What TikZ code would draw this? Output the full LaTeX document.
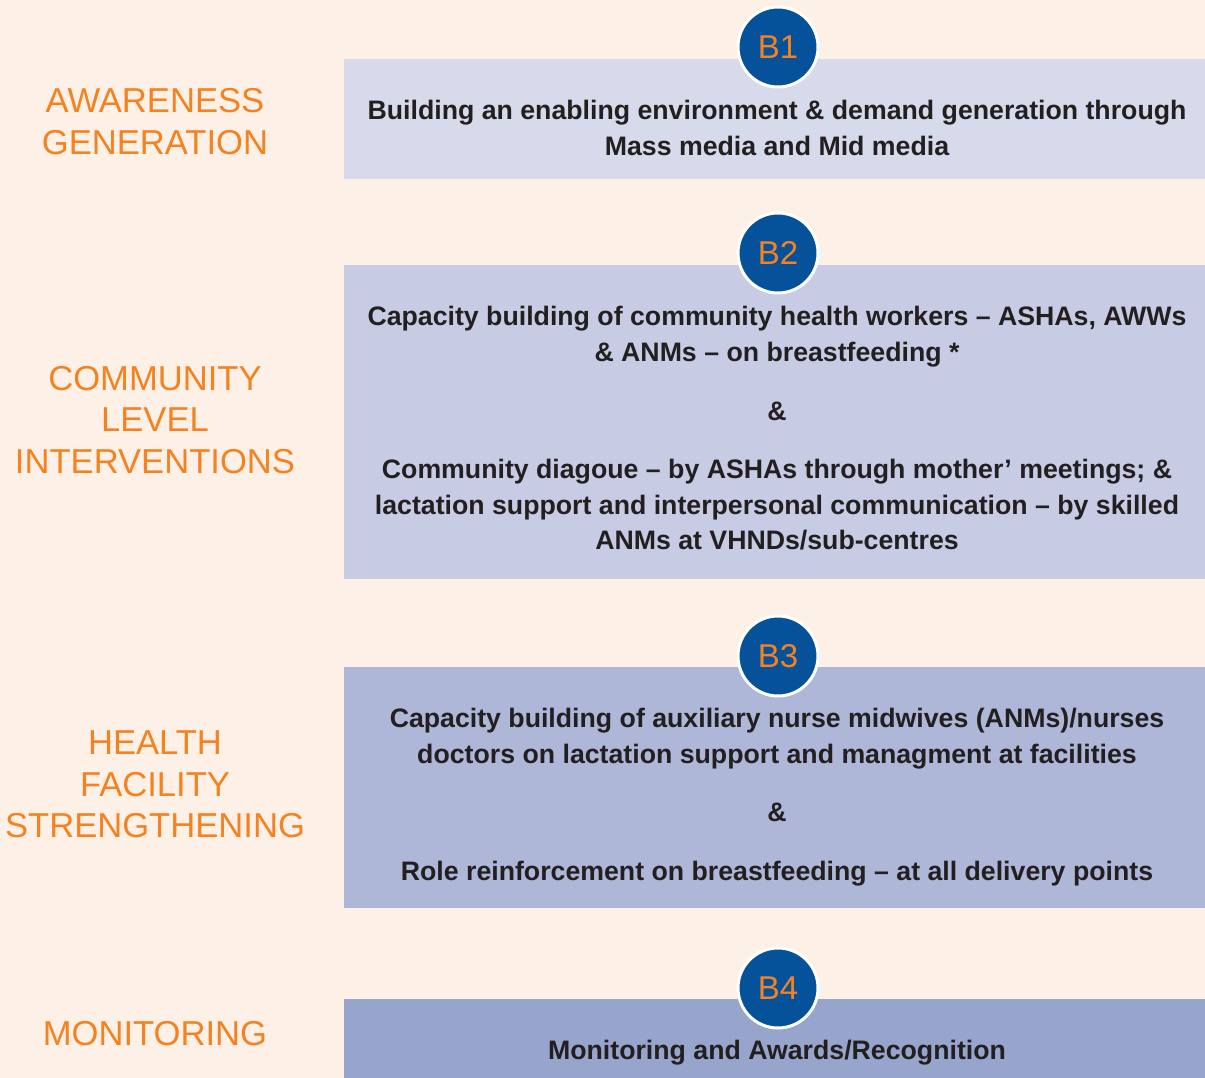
\documentclass[tikz,border=0pt]{standalone}
\usepackage{fontspec}
\setmainfont{Liberation Sans}
\definecolor{bgpeach}{RGB}{253,241,231}
\definecolor{labelorange}{RGB}{245,130,32}
\definecolor{badgeblue}{RGB}{5,82,155}
\definecolor{boxA}{RGB}{214,218,235}
\definecolor{boxB}{RGB}{199,204,228}
\definecolor{boxC}{RGB}{174,183,216}
\definecolor{boxD}{RGB}{151,164,203}
\definecolor{inktext}{RGB}{35,31,32}
\tikzset{
  sidelabel/.style={anchor=base, inner sep=0pt, text=labelorange,
    font=\fontsize{34.6}{40}\selectfont},
  boxline/.style={anchor=base, inner sep=0pt, text=inktext,
    font=\fontsize{26.7}{36}\selectfont\bfseries},
  badge/.style={circle, fill=badgeblue, draw=white, line width=3pt,
    minimum size=80pt, inner sep=0pt, text=labelorange,
    font=\fontsize{33}{36}\selectfont},
  band/.style={draw=none, inner sep=0pt}
}
\begin{document}
\begin{tikzpicture}[x=1pt,y=-1pt]
  % page background
  \fill[bgpeach] (0,0) rectangle (1205,1078);
  \useasboundingbox (0,0) rectangle (1205,1078);

  % coloured bands
  \fill[boxA] (344,59) rectangle (1205,179);
  \fill[boxB] (344,265) rectangle (1205,579);
  \fill[boxC] (344,667) rectangle (1205,908);
  \fill[boxD] (344,999) rectangle (1205,1078);

  % numbered badges
  \node[badge] (b1) at (778,47) {B1};
  \node[badge] (b2) at (778,253) {B2};
  \node[badge] (b3) at (778,656) {B3};
  \node[badge] (b4) at (778,988) {B4};

  % left-hand stage labels
  \node[sidelabel] (aw1) at (155,113) {AWARENESS};
  \node[sidelabel] (aw2) at (155,155) {GENERATION};
  \node[sidelabel] (cl1) at (155,390) {COMMUNITY};
  \node[sidelabel] (cl2) at (155,431) {LEVEL};
  \node[sidelabel] (cl3) at (155,473) {INTERVENTIONS};
  \node[sidelabel] (hf1) at (155,754) {HEALTH};
  \node[sidelabel] (hf2) at (155,796) {FACILITY};
  \node[sidelabel] (hf3) at (155,837) {STRENGTHENING};
  \node[sidelabel] (mo1) at (155,1045) {MONITORING};

  % B1 text
  \node[boxline] (t11) at (777,120) {Building an enabling environment \& demand generation through};
  \node[boxline] (t12) at (777,156) {Mass media and Mid media};

  % B2 text
  \node[boxline] (t21) at (777,325) {Capacity building of community health workers – ASHAs, AWWs};
  \node[boxline] (t22) at (777,361) {\& ANMs – on breastfeeding *};
  \node[boxline] (t23) at (777,420) {\&};
  \node[boxline] (t24) at (777,478) {Community diagoue – by ASHAs through mother’ meetings; \&};
  \node[boxline] (t25) at (777,514) {lactation support and interpersonal communication – by skilled};
  \node[boxline] (t26) at (777,549) {ANMs at VHNDs/sub-centres};

  % B3 text
  \node[boxline] (t31) at (777,727) {Capacity building of auxiliary nurse midwives (ANMs)/nurses};
  \node[boxline] (t32) at (777,763) {doctors on lactation support and managment at facilities};
  \node[boxline] (t33) at (777,821) {\&};
  \node[boxline] (t34) at (777,880) {Role reinforcement on breastfeeding – at all delivery points};

  % B4 text
  \node[boxline] (t41) at (777,1059) {Monitoring and Awards/Recognition};
\end{tikzpicture}
\end{document}
